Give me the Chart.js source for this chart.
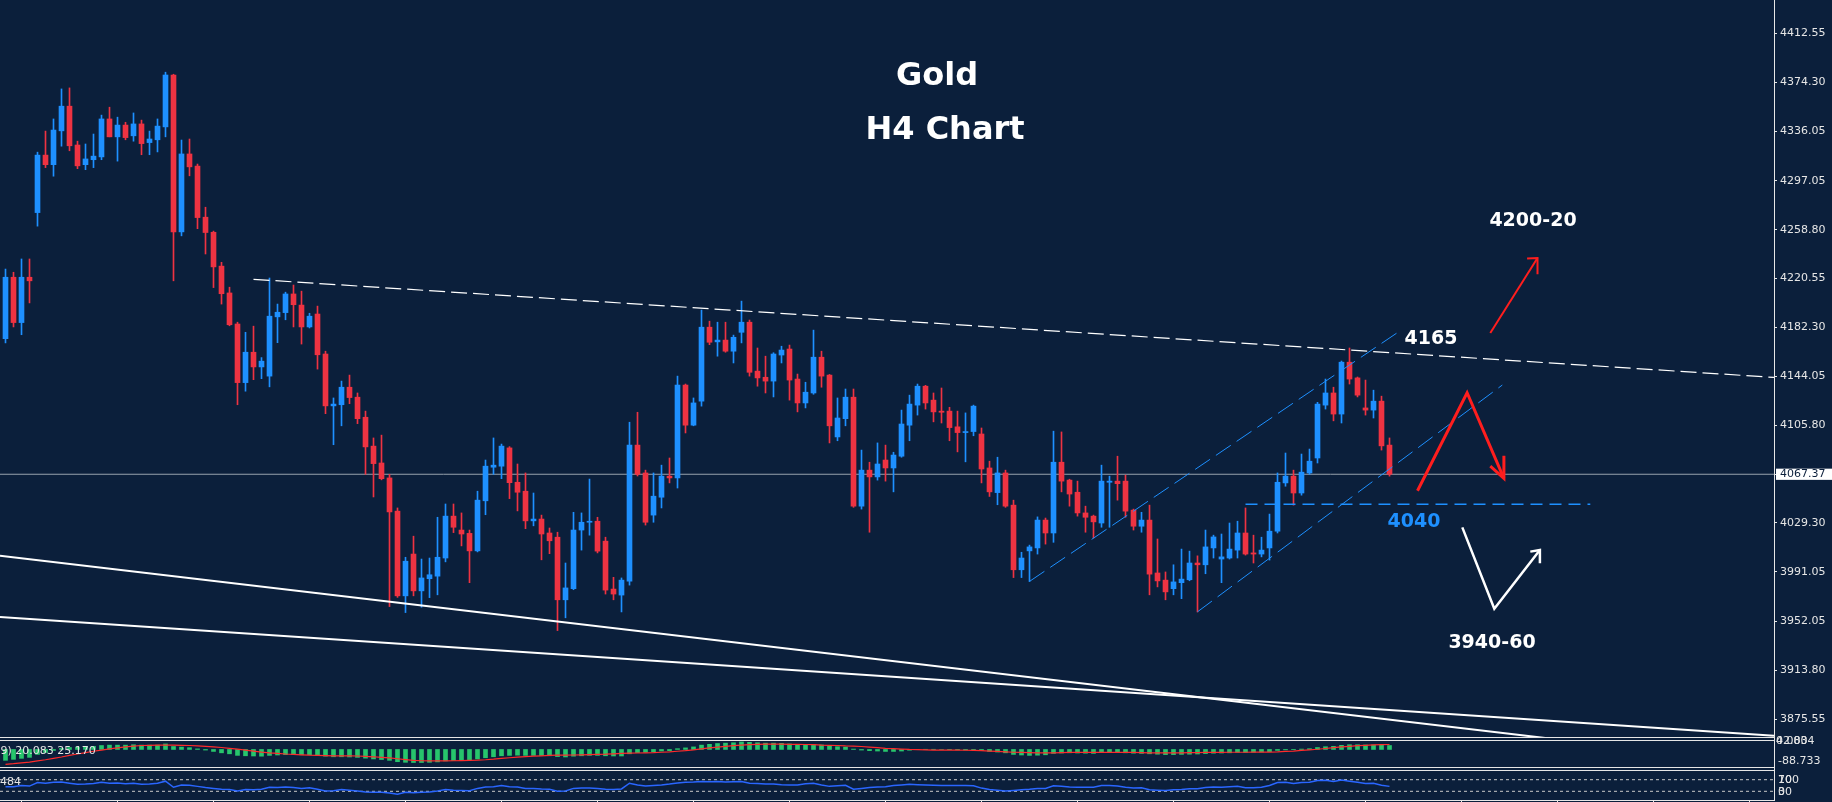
<!DOCTYPE html>
<html><head><meta charset="utf-8">
<script src="https://cdn.jsdelivr.net/npm/chart.js@4.4.1/dist/chart.umd.min.js"></script>
<style>
html,body{margin:0;padding:0;background:#0b1f3b;}
#wrap{position:relative;width:1832px;height:802px;overflow:hidden;background:#0b1f3b;font-family:"DejaVu Sans",sans-serif;}
canvas{position:absolute;left:0;}
.hl{position:absolute;left:0;width:1775px;height:1px;background:#e6e6e6;z-index:3;}
.vl{position:absolute;left:1774px;top:0;width:1px;height:801px;background:#e6e6e6;z-index:3;}
.t{position:absolute;white-space:nowrap;color:#fff;z-index:5;}
.ttl{font:bold 32px/32px "DejaVu Sans",sans-serif;transform:translateX(-50%);}
.lab{font:bold 19px/19px "DejaVu Sans",sans-serif;transform:translateX(-50%);}
.sm{font:11px/11px "DejaVu Sans",sans-serif;color:#e6e6e6;}
</style></head><body>
<div id="wrap">
<canvas id="main" width="1832" height="737" style="top:0"></canvas>
<canvas id="macd" width="1832" height="26" style="top:741px"></canvas>
<canvas id="rsi" width="1832" height="31" style="top:771px"></canvas>
<div class="hl" style="top:737px"></div>
<div class="hl" style="top:740px"></div>
<div class="hl" style="top:767px"></div>
<div class="hl" style="top:770px"></div>
<div class="hl" style="top:800px"></div>
<div class="vl"></div>
<div class="t ttl" style="left:937px;top:58px">Gold</div>
<div class="t ttl" style="left:945px;top:112px">H4 Chart</div>
<div class="t lab" style="left:1533px;top:210px">4200-20</div>
<div class="t lab" style="left:1431px;top:328px">4165</div>
<div class="t lab" style="left:1414px;top:511px;color:#1e90ff">4040</div>
<div class="t lab" style="left:1492px;top:632px">3940-60</div>
<div class="t sm" style="left:-3px;top:745px">.9) 20.083 25.170</div>
<div class="t sm" style="left:0px;top:776px">484</div>
<div class="t sm" style="left:1776px;top:735px">42.834</div>
<div class="t sm" style="left:1776px;top:735px">0.000</div>
<div class="t sm" style="left:1778px;top:755px">-88.733</div>
<div class="t sm" style="left:1778px;top:774px">100</div>
<div class="t sm" style="left:1778px;top:774px">70</div>
<div class="t sm" style="left:1778px;top:786px">30</div>
<div class="t sm" style="left:1778px;top:786px">0</div>
</div>
<script>
// ---- candle data (H4 Gold) ----
const open = [4173.5,4221.6,4186.1,4221.6,4272.2,4317.2,4309.7,4336.2,4355.5,4325.1,
4309.7,4313.6,4315.8,4345.5,4331.5,4340.7,4332.3,4341.6,4327.0,4329.2,
4339.3,4379.9,4257.1,4318.1,4308.6,4268.6,4256.8,4230.3,4209.3,4185.0,
4139.1,4162.9,4151.4,4144.2,4190.6,4193.9,4208.5,4199.8,4182.7,4192.8,
4161.5,4120.9,4121.8,4135.5,4127.7,4112.0,4089.4,4076.2,4064.5,4038.5,
3972.2,4004.9,3976.1,3985.6,3987.6,4001.8,4034.6,4023.7,4021.1,4007.4,
4046.6,4072.9,4073.7,4088.0,4061.1,4054.1,4030.9,4032.3,4021.4,4018.1,
3969.1,3977.8,4023.7,4029.8,4030.6,4015.0,3977.5,3972.8,3983.7,4090.2,
4068.4,4035.4,4049.4,4065.9,4064.5,4137.2,4105.8,4124.6,4182.5,4171.0,
4172.4,4163.7,4178.5,4186.4,4148.1,4143.3,4140.3,4160.7,4165.4,4141.9,
4123.2,4131.0,4159.0,4145.0,4096.6,4110.9,4127.7,4042.4,4070.6,4065.3,
4078.5,4072.3,4081.5,4105.8,4121.5,4136.3,4125.4,4116.8,4116.8,4104.5,
4100.0,4100.8,4098.9,4072.3,4053.0,4068.4,4043.2,3992.6,4007.4,4009.7,
4031.5,4021.4,4076.8,4062.8,4053.3,4037.1,4034.6,4029.2,4061.1,4062.0,
4062.0,4039.3,4026.7,4031.5,3990.1,3984.5,3977.8,3982.5,3984.8,3997.9,
3996.5,4009.7,4001.0,4001.8,4008.0,4021.4,4005.8,4004.9,4009.7,4022.8,
4060.6,4065.9,4052.7,4068.4,4080.1,4121.5,4131.0,4114.5,4155.1,4142.8,
4119.3,4117.6,4124.6,4090.2];
const high = [4228.0,4225.5,4235.9,4235.9,4319.5,4336.0,4345.5,4369.0,4369.8,4328.1,
4325.9,4333.7,4348.5,4354.7,4346.9,4342.9,4350.2,4344.6,4336.0,4345.5,
4382.1,4380.5,4329.0,4329.8,4310.2,4276.4,4257.7,4233.3,4213.8,4186.4,
4178.5,4183.3,4158.7,4221.0,4200.6,4209.9,4215.5,4210.7,4193.4,4199.0,
4163.7,4127.1,4140.3,4145.0,4131.0,4116.8,4095.8,4098.0,4067.3,4041.0,
4002.4,4018.9,4001.0,4001.8,4033.7,4044.1,4044.1,4037.1,4023.7,4054.1,
4078.5,4095.8,4091.0,4089.0,4075.4,4068.4,4052.7,4035.4,4025.3,4022.0,
3997.9,4037.6,4037.1,4063.6,4033.7,4018.1,3986.7,3986.2,4108.1,4115.9,
4070.6,4068.4,4074.5,4080.1,4144.2,4138.0,4127.1,4195.9,4187.2,4186.4,
4186.4,4176.3,4202.9,4188.1,4166.2,4159.8,4162.5,4167.6,4168.5,4145.8,
4139.4,4180.2,4163.7,4145.5,4127.1,4134.1,4134.1,4086.3,4076.8,4091.9,
4090.2,4084.6,4117.6,4129.3,4138.0,4137.0,4131.0,4134.9,4119.8,4116.8,
4115.4,4121.5,4103.6,4077.6,4080.7,4070.6,4047.1,4006.3,4011.9,4034.0,
4033.1,4101.1,4100.5,4063.5,4062.0,4042.4,4035.4,4074.5,4065.9,4081.5,
4066.7,4040.1,4037.6,4043.2,4016.7,3990.9,3996.5,4008.8,4007.2,4003.5,
4023.7,4019.7,4020.6,4029.2,4030.6,4041.0,4019.7,4018.1,4036.2,4068.4,
4084.0,4070.6,4083.2,4087.1,4123.7,4141.9,4135.5,4156.0,4166.2,4143.5,
4141.1,4133.2,4128.5,4095.8];
const low = [4170.2,4182.7,4176.6,4201.5,4261.6,4307.4,4300.7,4324.2,4320.6,4306.6,
4305.8,4307.4,4313.6,4331.5,4312.5,4329.2,4328.1,4317.5,4317.5,4319.7,
4331.5,4218.8,4254.0,4301.0,4259.6,4239.8,4213.5,4200.6,4183.6,4121.8,
4132.4,4141.4,4142.2,4135.8,4170.4,4188.3,4182.7,4169.3,4181.9,4149.7,
4114.8,4090.5,4105.3,4122.6,4107.0,4067.3,4049.6,4063.0,3963.8,3971.0,
3959.1,3972.2,3963.3,3970.8,3973.0,3998.8,4021.7,4011.3,3982.5,4006.6,
4035.7,4067.3,4063.9,4048.3,4038.7,4024.8,4027.0,4000.4,4005.2,3945.0,
3955.0,3977.0,4008.0,4019.7,4005.8,3973.6,3969.1,3959.6,3980.6,4066.0,
4027.6,4029.8,4041.0,4060.6,4056.6,4099.7,4105.3,4120.7,4168.8,4159.8,
4162.9,4154.5,4170.2,4144.2,4136.3,4131.0,4127.9,4154.5,4125.4,4116.2,
4119.3,4130.0,4135.5,4091.9,4093.6,4105.3,4041.5,4040.1,4022.0,4062.8,
4062.0,4053.6,4080.7,4093.6,4113.7,4118.4,4108.4,4107.5,4093.6,4084.9,
4077.1,4097.5,4060.6,4050.0,4043.5,4041.5,3986.5,3986.5,3983.4,4004.9,
4012.7,4014.1,4053.6,4042.4,4034.6,4022.0,4017.5,4025.9,4025.9,4047.1,
4033.7,4023.7,4022.0,3973.0,3979.2,3969.1,3973.0,3970.0,3984.0,3959.6,
3989.5,4001.8,3982.5,4001.0,4001.8,4004.1,3997.9,4002.7,4000.2,4021.4,
4058.0,4043.2,4051.0,4067.3,4076.2,4118.4,4109.2,4107.5,4138.0,4127.9,
4113.7,4111.4,4086.3,4065.9];
const close = [4221.6,4186.1,4221.6,4218.8,4317.2,4309.7,4336.8,4355.5,4324.5,4308.8,
4314.2,4316.4,4345.5,4331.5,4340.7,4330.9,4341.6,4326.2,4329.8,4339.9,
4379.9,4257.1,4318.1,4308.0,4268.3,4256.6,4229.7,4208.7,4184.4,4139.1,
4162.9,4151.4,4155.9,4191.1,4194.2,4208.5,4200.1,4182.7,4191.1,4160.9,
4120.9,4122.3,4135.5,4127.4,4110.9,4088.8,4075.7,4063.9,4037.9,3972.2,
3999.3,3976.1,3986.2,3988.7,4002.4,4034.6,4025.9,4020.6,4007.4,4047.1,
4073.7,4074.5,4089.4,4060.8,4053.3,4030.9,4032.3,4020.6,4015.3,3969.1,
3978.4,4023.7,4029.8,4030.6,4007.2,3976.7,3973.6,3984.5,4090.2,4067.3,
4029.8,4050.2,4065.9,4064.5,4137.2,4105.8,4123.2,4182.5,4170.7,4172.4,
4163.7,4174.6,4186.4,4147.2,4142.8,4140.3,4161.5,4164.6,4141.1,4123.2,
4131.6,4159.0,4144.2,4105.3,4111.4,4127.7,4042.4,4070.6,4065.3,4075.4,
4072.3,4082.4,4106.7,4122.3,4136.3,4123.2,4116.2,4115.9,4103.9,4100.0,
4100.8,4120.7,4071.5,4053.6,4068.4,4042.4,3992.6,4001.8,4010.5,4031.5,
4021.4,4076.8,4062.0,4051.9,4037.1,4033.7,4030.1,4062.0,4062.0,4060.0,
4038.5,4026.7,4031.5,3989.2,3983.9,3975.3,3983.1,3985.3,3997.9,3996.5,
4010.5,4018.3,4002.7,4008.8,4021.4,4004.9,4004.9,4008.0,4022.8,4061.1,
4065.9,4052.7,4069.0,4077.6,4122.3,4131.0,4114.5,4155.1,4141.9,4129.3,
4117.6,4124.6,4089.6,4067.37];

// ---- indicator data ----
const macdHist = [-55,-50,-45,-40,-25,-15,-5,5,10,12,14,16,20,22,22,22,24,22,22,22,
28,15,12,9,3,-3,-10,-17,-22,-30,-32,-33,-34,-30,-28,-26,-26,-27,-27,-30,
-34,-37,-37,-38,-40,-44,-48,-51,-55,-62,-65,-66,-66,-65,-63,-58,-56,-54,-52,-48,
-42,-37,-32,-30,-29,-30,-30,-31,-32,-36,-38,-34,-32,-30,-30,-32,-33,-33,-22,-16,
-14,-12,-8,-6,4,8,13,22,26,30,32,34,38,36,34,32,32,31,28,25,
24,25,23,18,14,12,2,-3,-6,-8,-10,-10,-8,-4,0,1,1,0,-1,-2,
-3,-2,-6,-10,-13,-17,-25,-28,-30,-29,-27,-20,-18,-17,-18,-19,-20,-16,-15,-15,
-17,-19,-20,-22,-24,-26,-26,-25,-24,-23,-21,-19,-18,-17,-15,-15,-14,-13,-11,-5,
-2,-1,2,4,10,14,16,21,24,24,23,23,21,20];
const macdSignal = [-75,-72,-68,-64,-58,-52,-45,-38,-30,-23,-16,-9,-3,3,8,13,17,20,21,22,
22,22,21,20,18,16,13,10,6,2,-3,-8,-13,-17,-20,-23,-25,-27,-29,-30,
-31,-32,-32,-32,-33,-35,-37,-40,-43,-47,-51,-55,-57,-58,-58,-58,-57,-56,-55,-54,
-52,-49,-45,-42,-39,-36,-34,-32,-30,-29,-29,-28,-27,-26,-25,-24,-22,-20,-19,-18,
-17,-16,-14,-12,-9,-6,-2,3,8,12,16,19,22,24,26,27,27,27,26,26,
25,24,22,21,20,18,17,15,12,9,6,4,2,0,-1,-2,-3,-3,-3,-3,
-4,-5,-6,-8,-10,-12,-14,-15,-16,-17,-17,-17,-16,-15,-15,-15,-15,-15,-15,-15,
-15,-15,-16,-17,-17,-17,-17,-17,-16,-16,-15,-15,-15,-14,-14,-14,-13,-13,-13,-12,
-10,-8,-5,-2,1,5,9,13,16,19,21,23,24,25.17];
const rsi = [46,46,50,48,60,58,61,62,58,54,55,57,61,58,59,56,58,54,55,58,
65,44,52,51,47,43,40,37,36,31,36,35,37,44,43,45,43,40,42,37,
31,32,36,34,31,28,27,27,24,20,27,25,27,28,31,36,34,33,32,40,
45,46,50,46,45,40,40,38,37,30,31,40,41,41,40,37,36,38,58,52,
48,50,52,55,59,61,62,64,63,64,62,63,64,58,57,55,55,53,52,52,
56,58,52,47,49,51,37,40,43,45,46,50,52,54,53,52,51,50,50,50,
50,49,41,36,34,31,33,35,37,40,40,49,47,45,44,44,44,50,50,48,
44,41,42,35,34,33,35,36,39,39,43,45,44,46,47,42,42,44,50,60,
61,57,60,61,67,68,64,69,65,61,57,58,51,47];
const rsiLevels = [70, 30];

// ---- axis ticks ----
const yTicks = [4412.55,4374.30,4336.05,4297.05,4258.80,4220.55,4182.30,4144.05,4105.80,4067.37,4029.30,3991.05,3952.05,3913.80,3875.55];
const currentPrice = 4067.37;
const timeTicks = [2,14,26,38,50,62,74,86,98,110,122,134,146,158,170,182,194,206,218];

// ---- drawn objects (index, price) ----
const upperTrend = [[31.0,4220.0],[221.06,4143.2]];
const lowerLineA = [[-0.69,4003.6],[221.06,3839.8]];
const lowerLineB = [[-0.69,3955.6],[221.06,3862.6]];
const channelUpper = [[128.0,3983.5],[174.1,4178.7]];
const channelLower = [[149.0,3959.7],[187.1,4137.2]];
const support4040 = [[155.0,4043.9],[198.1,4043.9]];
const redZigzag = [[176.5,4054.5],[182.7,4131.2],[187.3,4064.2]];
const redZigHead = [[185.6,4073.8],[187.3,4064.2],[187.3,4081.9]];
const redUp = [[185.6,4177.9],[191.5,4236.7]];
const redUpHead = [[190.2,4236.2],[191.5,4236.7],[191.5,4224.0]];
const whiteV = [[182.1,4025.8],[186.1,3962.1],[191.8,4008.1]];
const whiteVHead = [[190.6,4006.8],[191.8,4008.1],[191.8,3997.7]];

// ---- rendering ----
Chart.defaults.font.family = "'DejaVu Sans', sans-serif";
const X_MIN = -0.6875, X_MAX = 221.0625;
const Y_MAX = 4438.62, Y_MIN = 3861.70;
const BLUE = '#1e90ff', RED = '#ee3342', BG = '#0b1f3b';
const idx = open.map((_, i) => i);
const candleColor = idx.map(i => close[i] >= open[i] ? BLUE : RED);
const pts = a => a.map(p => ({x: p[0], y: p[1]}));
function seg(a, color, width, dash) {
  return {type: 'line', data: pts(a), borderColor: color, borderWidth: width,
    borderDash: dash || [], pointRadius: 0, fill: false, tension: 0, borderCapStyle: 'butt'};
}
const baseOpts = {
  responsive: false, animation: false, events: [],
  plugins: {legend: {display: false}, tooltip: {enabled: false}},
};

new Chart(document.getElementById('main'), {
  type: 'bar',
  data: {datasets: [
    seg(redZigzag, '#ff1e1e', 3),
    seg(redZigHead, '#ff1e1e', 3),
    seg(redUp, '#ff1e1e', 2),
    seg(redUpHead, '#ff1e1e', 2),
    seg(whiteV, '#ffffff', 2.5),
    seg(whiteVHead, '#ffffff', 2.5),
    seg(upperTrend, '#ffffff', 1.2, [16, 6]),
    seg(lowerLineA, '#ffffff', 2),
    seg(lowerLineB, '#ffffff', 2),
    seg(channelUpper, '#1e90ff', 1, [18, 7]),
    seg(channelLower, '#1e90ff', 1, [18, 7]),
    seg(support4040, '#1e90ff', 1.5, [12, 7]),
    {type: 'bar', data: idx.map(i => ({x: i, y: [open[i], close[i]]})), backgroundColor: candleColor,
      barThickness: 5, grouped: false, minBarLength: 1, borderWidth: 0},
    {type: 'bar', data: idx.map(i => ({x: i, y: [low[i], high[i]]})), backgroundColor: candleColor,
      barThickness: 1, grouped: false, borderWidth: 0},
    seg([[X_MIN, currentPrice], [X_MAX, currentPrice]], '#98a2ad', 1),
  ]},
  options: Object.assign({}, baseOpts, {
    layout: {padding: 0},
    scales: {
      x: {type: 'linear', min: X_MIN, max: X_MAX, offset: false, display: false},
      y: {position: 'right', min: Y_MIN, max: Y_MAX, beginAtZero: false,
        afterBuildTicks: s => { s.ticks = yTicks.map(v => ({value: v})); },
        afterFit: s => { s.width = 58; s.paddingTop = 0; s.paddingBottom = 0; },
        grid: {drawOnChartArea: false, drawTicks: true, tickLength: 3, color: '#e6e6e6'},
        border: {display: false},
        ticks: {autoSkip: false, padding: 3, font: {size: 11},
          callback: v => Number(v).toFixed(2),
          color: c => c.tick && c.tick.value === currentPrice ? BG : '#e6e6e6',
          showLabelBackdrop: c => !!(c.tick && c.tick.value === currentPrice),
          backdropColor: '#ffffff',
          backdropPadding: {top: -1, bottom: -1, left: 4, right: 8}}
      }
    }
  })
});

new Chart(document.getElementById('macd'), {
  type: 'bar',
  data: {datasets: [
    {type: 'line', data: idx.map(i => ({x: i, y: macdSignal[i]})), borderColor: '#ff2b2b', borderWidth: 1.2,
      pointRadius: 0, fill: false, tension: 0},
    {type: 'bar', data: idx.map(i => ({x: i, y: macdHist[i]})), backgroundColor: '#27c56c',
      barThickness: 4, grouped: false, borderWidth: 0},
  ]},
  options: Object.assign({}, baseOpts, {
    layout: {padding: {left: 0, right: 58, top: 0, bottom: 0}},
    scales: {
      x: {type: 'linear', min: X_MIN, max: X_MAX, offset: false, display: false},
      y: {min: -88.733, max: 42.834, display: false}
    }
  })
});

new Chart(document.getElementById('rsi'), {
  type: 'line',
  data: {datasets: [
    {data: idx.map(i => ({x: i, y: rsi[i]})), borderColor: '#2a66ff', borderWidth: 1.5,
      pointRadius: 0, fill: false, tension: 0},
    ...rsiLevels.map(v => seg([[X_MIN, v], [X_MAX, v]], '#c9c9c9', 1, [3, 3])),
  ]},
  options: Object.assign({}, baseOpts, {
    layout: {padding: {left: 0, right: 58, top: 0, bottom: 0}},
    scales: {
      x: {type: 'linear', min: X_MIN, max: X_MAX, offset: false, position: 'bottom',
        afterBuildTicks: s => { s.ticks = timeTicks.map(v => ({value: v})); },
        afterFit: s => { s.height = 2; },
        ticks: {display: false},
        border: {display: false},
        grid: {drawOnChartArea: false, drawTicks: true, tickLength: 2, color: '#e6e6e6'}},
      y: {min: 0, max: 100, display: false}
    }
  })
});
</script>
</body></html>
